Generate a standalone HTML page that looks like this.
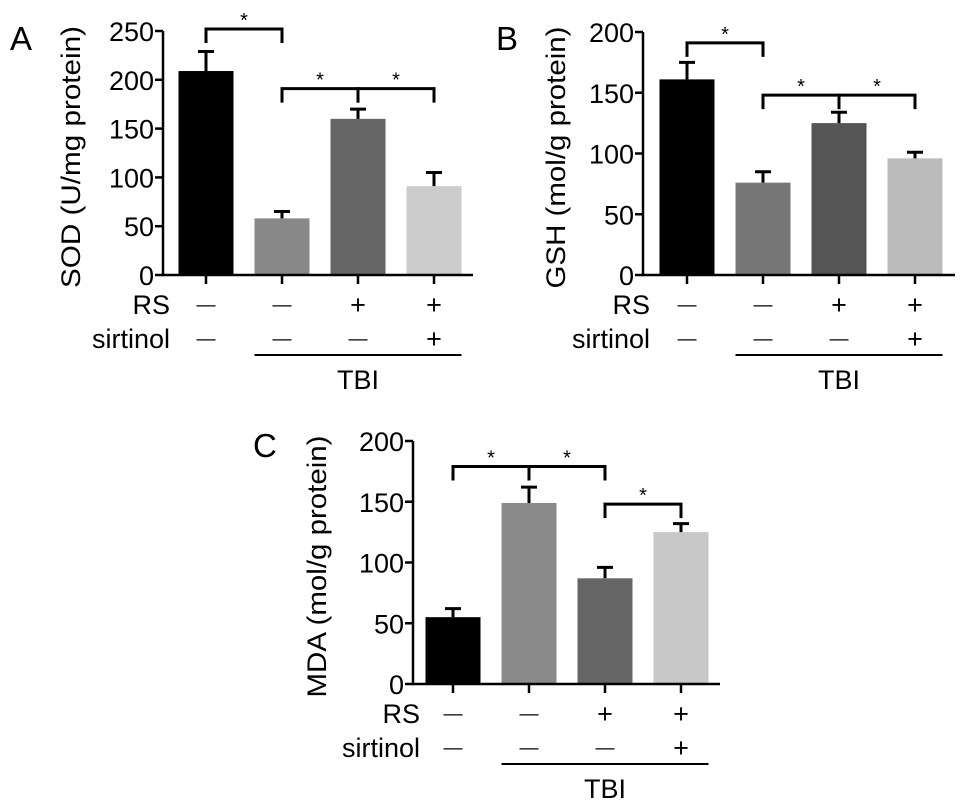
<!DOCTYPE html>
<html><head><meta charset="utf-8">
<style>
html,body{margin:0;padding:0;background:#fff;}
svg{display:block;font-family:"Liberation Sans",Arial,sans-serif;}
</style></head>
<body>
<svg id="fig" width="969" height="807" viewBox="0 0 969 807"></svg>
<script>
const categories = ["Sham", "TBI", "TBI+RS", "TBI+RS+sirtinol"];
const rsSigns = ["\u2014", "\u2014", "+", "+"];
const sirtinolSigns = ["\u2014", "\u2014", "\u2014", "+"];
const sodValues = [209, 58, 160, 91];
const sodErrors = [20, 7, 10, 14];
const sodTicks = [0, 50, 100, 150, 200, 250];
const gshValues = [161, 76, 125, 96];
const gshErrors = [14, 9, 9, 5];
const gshTicks = [0, 50, 100, 150, 200];
const mdaValues = [55, 149, 87, 125];
const mdaErrors = [7, 13, 9, 7];
const mdaTicks = [0, 50, 100, 150, 200];
const sodBrackets = [[0, 1, 252], [1, 2, 191], [2, 3, 191]];
const gshBrackets = [[0, 1, 191], [1, 2, 148], [2, 3, 148]];
const mdaBrackets = [[0, 1, 179], [1, 2, 179], [2, 3, 148]];

const NS = "http://www.w3.org/2000/svg";
const svg = document.getElementById("fig");
function mk(tag, attrs, parent, text) {
  const e = document.createElementNS(NS, tag);
  for (const k in attrs) e.setAttribute(k, attrs[k]);
  if (text !== undefined) e.textContent = text;
  (parent || svg).appendChild(e);
  return e;
}

function signText(g, x, y, s, name) {
  const isPlus = s === "+";
  const el = mk("text", {x: x, y: isPlus ? y : y - 3, "font-size": isPlus ? 27 : 19, "text-anchor": "middle"}, g, s);
  
  
}

function panel(p) {
  const g = mk("g", {});
  
  
  const yMax = p.ticks[p.ticks.length - 1];
  const ys = v => p.y0 - (v / yMax) * (p.y0 - p.yTop);
  const xc = i => p.x0 + p.firstCenter + i * p.step;
  const L = mk("text", {x: p.letterX, y: p.letterY, "font-size": 33}, g, p.letter);
  
  
  const t = mk("text", {x: 0, y: 0, "font-size": 27, "text-anchor": "middle", textLength: p.titleLen, lengthAdjust: "spacingAndGlyphs", transform: "translate(" + p.titleX + "," + ((p.y0 + p.yTop) / 2 + 4) + ") rotate(-90)"}, g, p.title);
  
  
  for (let i = 0; i < categories.length; i++) {
    const v = p.values[i], e = p.errors[i], cx = xc(i);
    const r = mk("rect", {x: cx - p.barW / 2, y: ys(v), width: p.barW, height: p.y0 - ys(v), fill: p.colors[i]}, g);
    
    
    const eb = mk("path", {d: "M" + cx + "," + ys(v) + "V" + ys(v + e) + "M" + (cx - 8) + "," + ys(v + e) + "H" + (cx + 8), stroke: "#000", "stroke-width": 3, fill: "none"}, g);
    
    
    const tk = mk("line", {x1: cx, x2: cx, y1: p.y0, y2: p.y0 + 9, stroke: "#000", "stroke-width": 2.5}, g);
    
    
    signText(g, cx, p.y0 + 39, rsSigns[i], 'rs-sign');
    signText(g, cx, p.y0 + 73, sirtinolSigns[i], 'sirtinol-sign');
  }
  const ax = mk("path", {d: "M" + p.x0 + "," + ys(yMax) + "V" + p.y0 + "H" + p.xEnd, stroke: "#000", "stroke-width": 2.5, fill: "none"}, g);
  
  
  for (const tv of p.ticks) {
    const yy = ys(tv);
    const tl = mk("line", {x1: p.x0 - 8, x2: p.x0, y1: yy, y2: yy, stroke: "#000", "stroke-width": 2.5}, g);
    
    
    const tx = mk("text", {x: p.x0 - 9, y: yy + 10, "font-size": 27, "text-anchor": "end"}, g, String(tv));
    
    
  }
  const rsl = mk("text", {x: p.x0 + 7, y: p.y0 + 39, "font-size": 27, "text-anchor": "end"}, g, "RS");
  
  
  const sl = mk("text", {x: p.x0 + 7, y: p.y0 + 73, "font-size": 27, "text-anchor": "end"}, g, "sirtinol");
  
  
  const x1 = xc(1) - p.barW / 2, x2 = xc(3) + p.barW / 2;
  const tl = mk("line", {x1: x1, x2: x2, y1: p.y0 + 80, y2: p.y0 + 80, stroke: "#000", "stroke-width": 2}, g);
  
  
  const tt = mk("text", {x: (x1 + x2) / 2, y: p.y0 + 114, "font-size": 27, "text-anchor": "middle"}, g, "TBI");
  
  
  for (const b of p.brackets) {
    const a = xc(b[0]), c = xc(b[1]), yy = ys(b[2]);
    const br = mk("path", {d: "M" + a + "," + (yy + 14) + "V" + yy + "H" + c + "V" + (yy + 14), stroke: "#000", "stroke-width": 3, fill: "none"}, g);
    
    
    const st = mk("text", {x: (a + c) / 2, y: yy - 2, "font-size": 20, "text-anchor": "middle"}, g, "*");
    
    
  }
}

panel({name: "sod", letter: "A", letterX: 10, letterY: 50, title: "SOD (U/mg protein)", titleX: 80, titleLen: 262,
  x0: 163, y0: 275, yTop: 31, xEnd: 473, firstCenter: 43, step: 76, barW: 55,
  values: sodValues, errors: sodErrors, ticks: sodTicks, brackets: sodBrackets,
  colors: ["#000", "#888", "#666", "#ccc"]});
panel({name: "gsh", letter: "B", letterX: 496, letterY: 50, title: "GSH (mol/g protein)", titleX: 565, titleLen: 262,
  x0: 643, y0: 275, yTop: 32, xEnd: 955, firstCenter: 44, step: 76, barW: 55,
  values: gshValues, errors: gshErrors, ticks: gshTicks, brackets: gshBrackets,
  colors: ["#000", "#777", "#555", "#bbb"]});
panel({name: "mda", letter: "C", letterX: 253, letterY: 457, title: "MDA (mol/g protein)", titleX: 326, titleLen: 262,
  x0: 413, y0: 684, yTop: 441, xEnd: 720, firstCenter: 40, step: 76, barW: 55,
  values: mdaValues, errors: mdaErrors, ticks: mdaTicks, brackets: mdaBrackets,
  colors: ["#000", "#8a8a8a", "#666", "#c8c8c8"]});
</script>
</body></html>
